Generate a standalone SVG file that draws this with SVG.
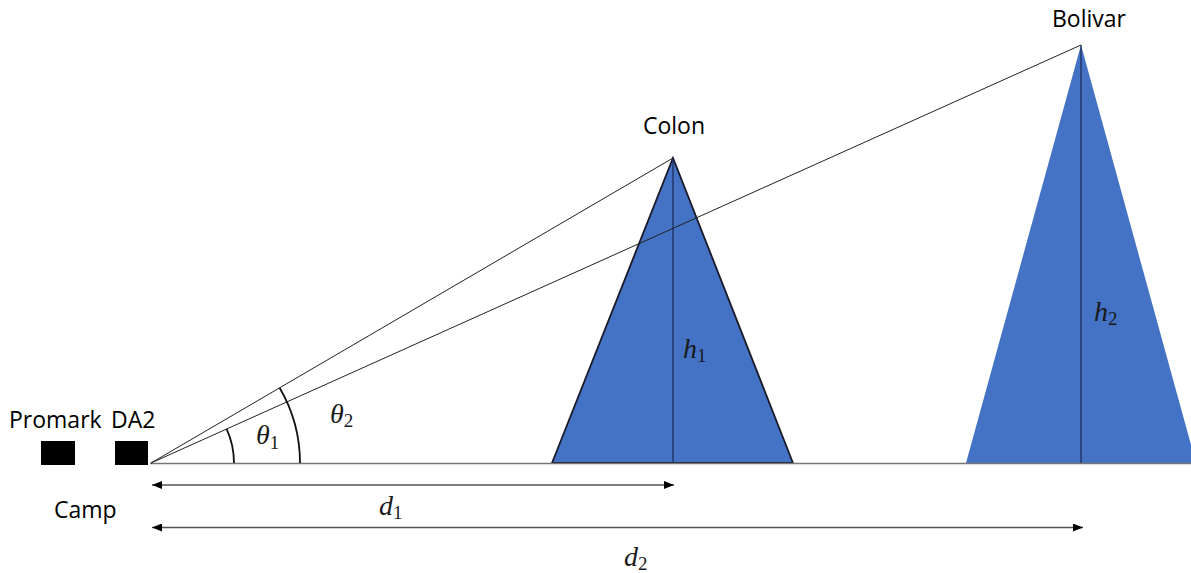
<svg xmlns="http://www.w3.org/2000/svg" width="1191" height="573" viewBox="0 0 1191 573">
<style>
.lbl{font-family:"Open Sans","Liberation Sans",sans-serif;font-size:23px;fill:#000}
.math{font-family:"Liberation Serif","DejaVu Serif",serif;font-style:italic;font-size:28px;fill:#1a1a1a}
.sub{font-style:normal;font-size:19px}
.thin{stroke:#222;stroke-width:1;fill:none}
.arc{stroke:#111;stroke-width:1.8;fill:none}
.dim{stroke:#555;stroke-width:1.3;fill:none}
.mtn{fill:#4472C4}
.axis{stroke:#1f2d5a;stroke-width:1.3}
</style>
<defs>
<marker id="ah" viewBox="0 0 10 8" refX="10" refY="4" markerWidth="10" markerHeight="8" markerUnits="userSpaceOnUse" orient="auto-start-reverse">
<path d="M0,0 L10,4 L0,8 Z" fill="#000"/>
</marker>
</defs>
<rect width="1191" height="573" fill="#fff"/>
<g id="colon">
<polygon class="mtn" points="552,463 673,158 793,463" stroke="#1a1a2a" stroke-width="1.8"/>
<line class="axis" x1="673" y1="158" x2="673" y2="463"/>
<text class="lbl" x="674" y="134" text-anchor="middle">Colon</text>
<text class="math" x="683" y="358">h<tspan class="sub" dy="4">1</tspan></text>
</g>
<g id="bolivar">
<polygon class="mtn" points="966,463 1081,45 1196,463"/>
<line class="axis" x1="1081" y1="45" x2="1081" y2="463"/>
<text class="lbl" x="1089" y="27" text-anchor="middle">Bolivar</text>
<text class="math" x="1094" y="321">h<tspan class="sub" dy="4">2</tspan></text>
</g>
<g id="promark">
<rect x="41" y="441" width="34" height="24" fill="#000"/>
<text class="lbl" x="9" y="428">Promark</text>
</g>
<g id="da2">
<rect x="115" y="441" width="33" height="24" fill="#000"/>
<text class="lbl" x="111" y="428">DA2</text>
</g>
<text class="lbl" x="54" y="518">Camp</text>
<g id="connectors">
<line x1="150" y1="463.5" x2="1191" y2="463.5" stroke="#777" stroke-width="1.5"/>
<line class="thin" x1="151" y1="463" x2="673" y2="158"/>
<line class="thin" x1="151" y1="463" x2="1081" y2="45"/>
<path class="arc" d="M234,463 A83,83 0 0 0 226.6,428.9"/>
<path class="arc" d="M300,463 A149,149 0 0 0 279.6,387.7"/>
<line class="dim" x1="152" y1="485" x2="674" y2="485" marker-start="url(#ah)" marker-end="url(#ah)"/>
<line class="dim" x1="152" y1="527.5" x2="1083" y2="527.5" marker-start="url(#ah)" marker-end="url(#ah)"/>
</g>
<text class="math" x="256" y="444">θ<tspan class="sub" dy="5">1</tspan></text>
<text class="math" x="330" y="423">θ<tspan class="sub" dy="4">2</tspan></text>
<text class="math" x="379" y="515">d<tspan class="sub" dy="4">1</tspan></text>
<text class="math" x="624" y="566">d<tspan class="sub" dy="4">2</tspan></text>
</svg>
